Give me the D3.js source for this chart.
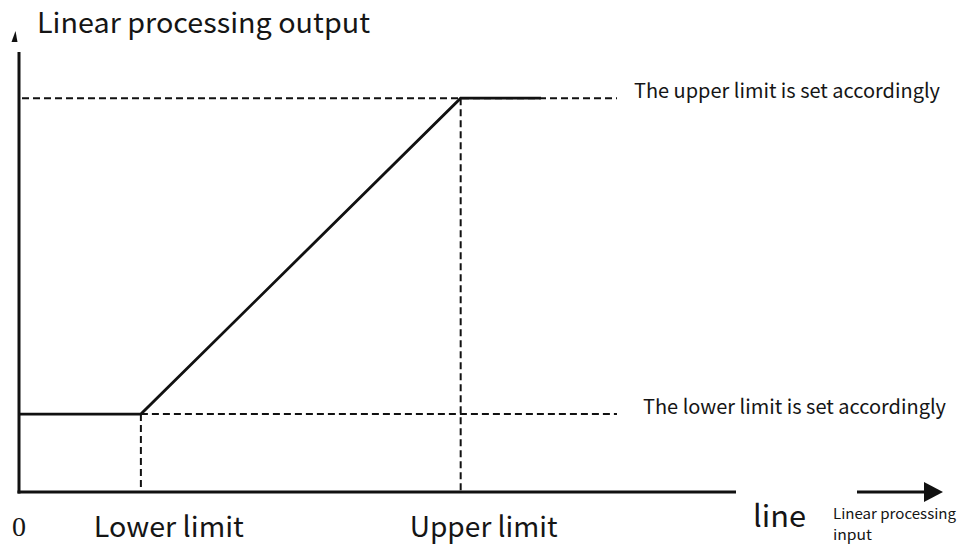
<!DOCTYPE html>
<html>
<head>
<meta charset="utf-8">
<script src="https://cdn.jsdelivr.net/npm/d3@7"></script>
<style>
  html, body { margin: 0; padding: 0; background: #fff; }
  svg { display: block; }
  text { font-family: "Noto Sans CJK SC", "Noto Sans", sans-serif; fill: #151515; }
  text.serif { font-family: "Liberation Serif", "DejaVu Serif", serif; }
</style>
</head>
<body>
<svg id="chart" width="959" height="544"></svg>
<script>
// Transfer curve of the linear processing block (input → output), 0–100 units
const inputBreaks = [0, 17, 61.6, 72.8];       // x: origin, lower limit, upper limit, plateau end
const outputLevels = [17.7, 17.7, 89.5, 89.5]; // y at each break
const limitLines = [
  { name: "lower", level: 17.7, at: 17, label: "The lower limit is set accordingly" },
  { name: "upper", level: 89.5, at: 61.6, label: "The upper limit is set accordingly" }
];
const xTickLabels = [
  { value: 17, text: "Lower limit" },
  { value: 61.6, text: "Upper limit" }
];

const svg = d3.select("#chart");
const x = d3.scaleLinear().domain([0, 100]).range([19, 736]);
const y = d3.scaleLinear().domain([0, 100]).range([492, 52]);
const ink = "#111";

// Axes
svg.append("line")
  .attr("x1", x(0)).attr("x2", x(0))
  .attr("y1", y(100)).attr("y2", y(0) + 1.5)
  .attr("stroke", ink).attr("stroke-width", 3);
svg.append("line")
  .attr("x1", x(0) - 1.5).attr("x2", x(100))
  .attr("y1", y(0)).attr("y2", y(0))
  .attr("stroke", ink).attr("stroke-width", 3);

// small arrowhead above the vertical axis
svg.append("path")
  .attr("d", "M15.5,31 L17.5,42 L11.5,42 Z")
  .attr("fill", ink);

// Dashed reference lines
const dashEnd = x(83.4);
limitLines.forEach(d => {
  const x0 = d.name === "upper" ? x(0) + 3 : x(d.at);
  svg.append("line")
    .attr("x1", x0).attr("x2", dashEnd)
    .attr("y1", y(d.level)).attr("y2", y(d.level))
    .attr("stroke", ink).attr("stroke-width", 2)
    .attr("stroke-dasharray", "7,4");
  svg.append("line")
    .attr("x1", x(d.at)).attr("x2", x(d.at))
    .attr("y1", y(d.level)).attr("y2", y(0))
    .attr("stroke", ink).attr("stroke-width", 2)
    .attr("stroke-dasharray", "7,4");
});

// Transfer curve
const pts = inputBreaks.map((v, i) => [v, outputLevels[i]]);
svg.append("path")
  .datum(pts)
  .attr("d", d3.line().x(d => x(d[0])).y(d => y(d[1])))
  .attr("fill", "none")
  .attr("stroke", ink)
  .attr("stroke-width", 2.8)
  .attr("stroke-linejoin", "miter");

// helper for text with a fixed rendered width
function label(tx, ty, size, w, str, cls) {
  const t = svg.append("text").attr("x", tx).attr("y", ty)
    .attr("font-size", size).text(str);
  if (cls) t.attr("class", cls);
  if (w) t.attr("textLength", w).attr("lengthAdjust", "spacingAndGlyphs");
  return t;
}

// Limit labels
label(634, 98, 20, 306, limitLines[1].label);
label(643, 414, 20, 303, limitLines[0].label);

// Axis title
label(37, 33, 28, 333, "Linear processing output");

// Origin
label(12, 536, 28, 14, "0", "serif");

// x tick labels
svg.selectAll("text.xtick")
  .data(xTickLabels)
  .join("text")
  .attr("class", "xtick")
  .attr("x", d => x(d.value) + (d.value < 30 ? -47 : -51))
  .attr("y", 537)
  .attr("font-size", 28)
  .attr("textLength", d => d.value < 30 ? 150 : 148)
  .attr("lengthAdjust", "spacingAndGlyphs")
  .text(d => d.text);

// "line" and input arrow
label(753, 527, 30, 53, "line");
svg.append("line")
  .attr("x1", 857).attr("x2", 926)
  .attr("y1", 492).attr("y2", 492)
  .attr("stroke", ink).attr("stroke-width", 3);
svg.append("path")
  .attr("d", "M924,482 L943,492 L924,502 Z")
  .attr("fill", ink);
label(833, 519, 14, 123, "Linear processing");
label(833, 540, 14, 39, "input");
</script>
</body>
</html>
